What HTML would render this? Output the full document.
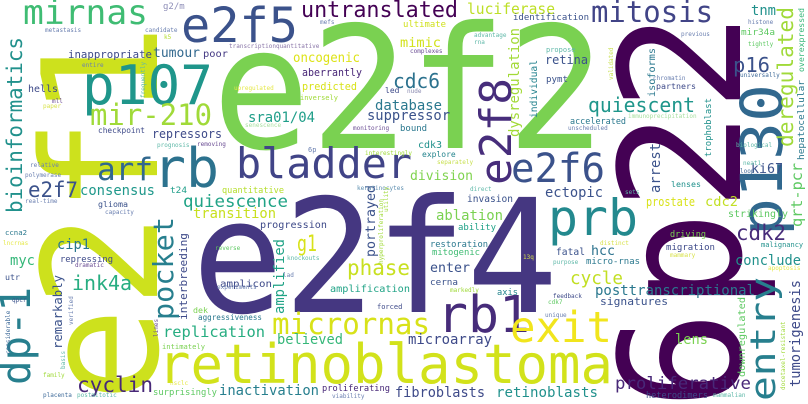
<!DOCTYPE html>
<html><head><meta charset="utf-8">
<style>
html,body{margin:0;padding:0;background:#fff;}
svg{display:block;}
text{font-family:"DejaVu Sans Mono","Liberation Mono",monospace;}
</style></head>
<body>
<svg width="808" height="404" viewBox="0 0 808 404" xmlns="http://www.w3.org/2000/svg">
<rect width="808" height="404" fill="#ffffff"/>
<text transform="translate(157,402) rotate(-90)" font-size="160" fill="#cde11d" textLength="378" lengthAdjust="spacingAndGlyphs">e2f1</text>
<text transform="translate(740,410) rotate(-90)" font-size="168" fill="#440154" textLength="398" lengthAdjust="spacingAndGlyphs">6p22</text>
<text x="212" y="148" font-size="170" fill="#7ad151" textLength="393" lengthAdjust="spacingAndGlyphs">e2f2</text>
<text x="192" y="312" font-size="158" fill="#453781" textLength="366" lengthAdjust="spacingAndGlyphs">e2f4</text>
<text x="158" y="383" font-size="54" fill="#d2e21b" textLength="455" lengthAdjust="spacingAndGlyphs">retinoblastoma</text>
<text x="82" y="104" font-size="54" fill="#1f968b" textLength="131" lengthAdjust="spacingAndGlyphs">p107</text>
<text x="548" y="235" font-size="50" fill="#23898e" textLength="90" lengthAdjust="spacingAndGlyphs">prb</text>
<text x="437" y="332" font-size="51" fill="#472c7a" textLength="93" lengthAdjust="spacingAndGlyphs">rb1</text>
<text x="181" y="42" font-size="48" fill="#3b528b" textLength="117" lengthAdjust="spacingAndGlyphs">e2f5</text>
<text x="153" y="187" font-size="54" fill="#2c728e" textLength="66" lengthAdjust="spacingAndGlyphs">rb</text>
<text x="236" y="178" font-size="42" fill="#414487" textLength="176" lengthAdjust="spacingAndGlyphs">bladder</text>
<text x="510" y="342" font-size="43" fill="#f1e51d" textLength="102" lengthAdjust="spacingAndGlyphs">exit</text>
<text transform="translate(511,185) rotate(-90)" font-size="44" fill="#472d7b" textLength="107" lengthAdjust="spacingAndGlyphs">e2f8</text>
<text x="511" y="182" font-size="40" fill="#3b528b" textLength="94" lengthAdjust="spacingAndGlyphs">e2f6</text>
<text transform="translate(782,236) rotate(-90)" font-size="58" fill="#31688e" textLength="152" lengthAdjust="spacingAndGlyphs">p130</text>
<text transform="translate(775,401) rotate(-90)" font-size="35" fill="#277f8e" textLength="124" lengthAdjust="spacingAndGlyphs">entry</text>
<text transform="translate(30,385) rotate(-90)" font-size="41" fill="#277f8e" textLength="98" lengthAdjust="spacingAndGlyphs">dp-1</text>
<text x="97" y="180" font-size="31" fill="#31688e" textLength="56" lengthAdjust="spacingAndGlyphs">arf</text>
<text x="23" y="24" font-size="34" fill="#3fbc73" textLength="125" lengthAdjust="spacingAndGlyphs">mirnas</text>
<text x="591" y="22" font-size="29" fill="#414487" textLength="122" lengthAdjust="spacingAndGlyphs">mitosis</text>
<text x="90" y="125" font-size="29" fill="#a0da39" textLength="122" lengthAdjust="spacingAndGlyphs">mir-210</text>
<text x="272" y="334" font-size="29" fill="#d8e219" textLength="158" lengthAdjust="spacingAndGlyphs">micrornas</text>
<text transform="translate(173,320) rotate(-90)" font-size="28" fill="#277f8e" textLength="103" lengthAdjust="spacingAndGlyphs">pocket</text>
<text transform="translate(22,213) rotate(-90)" font-size="21" fill="#21918c" textLength="176" lengthAdjust="spacingAndGlyphs">bioinformatics</text>
<text transform="translate(793,147) rotate(-90)" font-size="21" fill="#a0da39" textLength="140" lengthAdjust="spacingAndGlyphs">deregulated</text>
<text x="301" y="17" font-size="22" fill="#440154" textLength="157" lengthAdjust="spacingAndGlyphs">untranslated</text>
<text x="588" y="112" font-size="20" fill="#1f968b" textLength="107" lengthAdjust="spacingAndGlyphs">quiescent</text>
<text x="393" y="88" font-size="20" fill="#2c728e" textLength="47" lengthAdjust="spacingAndGlyphs">cdc6</text>
<text x="733" y="72" font-size="20" fill="#3b528b" textLength="37" lengthAdjust="spacingAndGlyphs">p16</text>
<text x="736" y="240" font-size="21" fill="#472c7a" textLength="50" lengthAdjust="spacingAndGlyphs">cdk2</text>
<text x="28" y="197" font-size="21" fill="#3b528b" textLength="50" lengthAdjust="spacingAndGlyphs">e2f7</text>
<text x="72" y="290" font-size="20" fill="#27ad81" textLength="60" lengthAdjust="spacingAndGlyphs">ink4a</text>
<text x="77" y="392" font-size="21" fill="#482878" textLength="76" lengthAdjust="spacingAndGlyphs">cyclin</text>
<text x="347" y="275" font-size="21" fill="#c8e020" textLength="63" lengthAdjust="spacingAndGlyphs">phase</text>
<text x="297" y="251" font-size="22" fill="#d8e219" textLength="20" lengthAdjust="spacingAndGlyphs">g1</text>
<text x="183" y="207" font-size="17" fill="#20a386" textLength="105" lengthAdjust="spacingAndGlyphs">quiescence</text>
<text x="570" y="284" font-size="18" fill="#c2df23" textLength="53" lengthAdjust="spacingAndGlyphs">cycle</text>
<text x="615" y="389" font-size="17" fill="#482878" textLength="136" lengthAdjust="spacingAndGlyphs">proliferative</text>
<text x="163" y="337" font-size="15" fill="#27ad81" textLength="102" lengthAdjust="spacingAndGlyphs">replication</text>
<text x="595" y="295" font-size="14" fill="#2a788e" textLength="160" lengthAdjust="spacingAndGlyphs">posttranscriptional</text>
<text x="467" y="14" font-size="15" fill="#bddf26" textLength="88" lengthAdjust="spacingAndGlyphs">luciferase</text>
<text x="153" y="57" font-size="13" fill="#31688e" textLength="47" lengthAdjust="spacingAndGlyphs">tumour</text>
<text x="203" y="57" font-size="10" fill="#443983" textLength="25" lengthAdjust="spacingAndGlyphs">poor</text>
<text x="68" y="58" font-size="11" fill="#3e4a89" textLength="84" lengthAdjust="spacingAndGlyphs">inappropriate</text>
<text x="293" y="62" font-size="13" fill="#dde318" textLength="67" lengthAdjust="spacingAndGlyphs">oncogenic</text>
<text x="400" y="47" font-size="13" fill="#d2e21b" textLength="41" lengthAdjust="spacingAndGlyphs">mimic</text>
<text x="302" y="76" font-size="11" fill="#482677" textLength="60" lengthAdjust="spacingAndGlyphs">aberrantly</text>
<text x="302" y="90" font-size="11" fill="#d8e219" textLength="55" lengthAdjust="spacingAndGlyphs">predicted</text>
<text x="375" y="110" font-size="14" fill="#2a788e" textLength="67" lengthAdjust="spacingAndGlyphs">database</text>
<text x="367" y="120" font-size="14" fill="#3b528b" textLength="83" lengthAdjust="spacingAndGlyphs">suppressor</text>
<text x="248" y="122" font-size="14" fill="#1f9e89" textLength="67" lengthAdjust="spacingAndGlyphs">sra01/04</text>
<text x="152" y="138" font-size="12" fill="#3e4a89" textLength="70" lengthAdjust="spacingAndGlyphs">repressors</text>
<text x="28" y="92" font-size="10" fill="#3e4a89" textLength="30" lengthAdjust="spacingAndGlyphs">hells</text>
<text x="98" y="133" font-size="8" fill="#3e4a89" textLength="47" lengthAdjust="spacingAndGlyphs">checkpoint</text>
<text x="410" y="180" font-size="13" fill="#7fd34e" textLength="63" lengthAdjust="spacingAndGlyphs">division</text>
<text x="80" y="195" font-size="14" fill="#1f988b" textLength="75" lengthAdjust="spacingAndGlyphs">consensus</text>
<text x="170" y="193" font-size="9" fill="#1f9e89" textLength="17" lengthAdjust="spacingAndGlyphs">t24</text>
<text x="222" y="193" font-size="9" fill="#b5de2b" textLength="62" lengthAdjust="spacingAndGlyphs">quantitative</text>
<text x="545" y="197" font-size="14" fill="#3b528b" textLength="58" lengthAdjust="spacingAndGlyphs">ectopic</text>
<text x="467" y="202" font-size="10" fill="#3b528b" textLength="46" lengthAdjust="spacingAndGlyphs">invasion</text>
<text x="193" y="218" font-size="14" fill="#c8e020" textLength="83" lengthAdjust="spacingAndGlyphs">transition</text>
<text x="436" y="220" font-size="14" fill="#7ad151" textLength="67" lengthAdjust="spacingAndGlyphs">ablation</text>
<text x="260" y="228" font-size="10" fill="#3e4a89" textLength="67" lengthAdjust="spacingAndGlyphs">progression</text>
<text x="458" y="230" font-size="9" fill="#1fa187" textLength="38" lengthAdjust="spacingAndGlyphs">ability</text>
<text transform="translate(187,320) rotate(-90)" font-size="11" fill="#3e4a89" textLength="87" lengthAdjust="spacingAndGlyphs">interbreeding</text>
<text transform="translate(375,257) rotate(-90)" font-size="13" fill="#3b528b" textLength="72" lengthAdjust="spacingAndGlyphs">portrayed</text>
<text transform="translate(284,314) rotate(-90)" font-size="14" fill="#20a386" textLength="75" lengthAdjust="spacingAndGlyphs">amplified</text>
<text transform="translate(519,137) rotate(-90)" font-size="14" fill="#a2da37" textLength="109" lengthAdjust="spacingAndGlyphs">dysregulation</text>
<text transform="translate(537,118) rotate(-90)" font-size="10" fill="#25838e" textLength="58" lengthAdjust="spacingAndGlyphs">individual</text>
<text x="430" y="247" font-size="9" fill="#2a788e" textLength="58" lengthAdjust="spacingAndGlyphs">restoration</text>
<text x="432" y="255" font-size="9" fill="#3fbc73" textLength="48" lengthAdjust="spacingAndGlyphs">mitogenic</text>
<text x="430" y="272" font-size="13" fill="#3b528b" textLength="40" lengthAdjust="spacingAndGlyphs">enter</text>
<text x="430" y="285" font-size="9" fill="#3b528b" textLength="28" lengthAdjust="spacingAndGlyphs">cerna</text>
<text x="330" y="292" font-size="10" fill="#20a386" textLength="80" lengthAdjust="spacingAndGlyphs">amplification</text>
<text x="497" y="295" font-size="9" fill="#25858e" textLength="21" lengthAdjust="spacingAndGlyphs">axis</text>
<text x="220" y="287" font-size="10" fill="#3e4a89" textLength="52" lengthAdjust="spacingAndGlyphs">amplicon</text>
<text x="277" y="344" font-size="14" fill="#35b779" textLength="66" lengthAdjust="spacingAndGlyphs">believed</text>
<text x="408" y="344" font-size="14" fill="#3e4a89" textLength="84" lengthAdjust="spacingAndGlyphs">microarray</text>
<text x="395" y="397" font-size="14" fill="#3e4a89" textLength="90" lengthAdjust="spacingAndGlyphs">fibroblasts</text>
<text x="496" y="397" font-size="14" fill="#21918c" textLength="102" lengthAdjust="spacingAndGlyphs">retinoblasts</text>
<text x="219" y="395" font-size="14" fill="#277f8e" textLength="100" lengthAdjust="spacingAndGlyphs">inactivation</text>
<text x="322" y="391" font-size="9" fill="#482878" textLength="68" lengthAdjust="spacingAndGlyphs">proliferating</text>
<text x="153" y="395" font-size="9" fill="#5ec962" textLength="64" lengthAdjust="spacingAndGlyphs">surprisingly</text>
<text x="57" y="249" font-size="14" fill="#2a788e" textLength="33" lengthAdjust="spacingAndGlyphs">cip1</text>
<text x="10" y="265" font-size="14" fill="#35b779" textLength="25" lengthAdjust="spacingAndGlyphs">myc</text>
<text x="60" y="262" font-size="9" fill="#3e4a89" textLength="53" lengthAdjust="spacingAndGlyphs">repressing</text>
<text transform="translate(62,349) rotate(-90)" font-size="12" fill="#3b528b" textLength="74" lengthAdjust="spacingAndGlyphs">remarkably</text>
<text x="198" y="320" font-size="8" fill="#2a788e" textLength="64" lengthAdjust="spacingAndGlyphs">aggressiveness</text>
<text x="193" y="313" font-size="8" fill="#7ad151" textLength="15" lengthAdjust="spacingAndGlyphs">dek</text>
<text x="162" y="349" font-size="7" fill="#7ad151" textLength="43" lengthAdjust="spacingAndGlyphs">intimately</text>
<text x="98" y="207" font-size="8" fill="#3b528b" textLength="30" lengthAdjust="spacingAndGlyphs">glioma</text>
<text x="5" y="280" font-size="8" fill="#3b528b" textLength="15" lengthAdjust="spacingAndGlyphs">utr</text>
<text x="5" y="235" font-size="7" fill="#2a788e" textLength="22" lengthAdjust="spacingAndGlyphs">ccna2</text>
<text x="735" y="265" font-size="14" fill="#21918c" textLength="66" lengthAdjust="spacingAndGlyphs">conclude</text>
<text x="600" y="305" font-size="11" fill="#3b528b" textLength="68" lengthAdjust="spacingAndGlyphs">signatures</text>
<text x="556" y="255" font-size="10" fill="#3b528b" textLength="29" lengthAdjust="spacingAndGlyphs">fatal</text>
<text x="591" y="255" font-size="13" fill="#2c728e" textLength="24" lengthAdjust="spacingAndGlyphs">hcc</text>
<text x="586" y="264" font-size="9" fill="#2a788e" textLength="54" lengthAdjust="spacingAndGlyphs">micro-rnas</text>
<text x="728" y="217" font-size="10" fill="#5ec962" textLength="60" lengthAdjust="spacingAndGlyphs">strikingly</text>
<text x="646" y="206" font-size="12" fill="#d8e219" textLength="49" lengthAdjust="spacingAndGlyphs">prostate</text>
<text x="705" y="206" font-size="13" fill="#c2df23" textLength="33" lengthAdjust="spacingAndGlyphs">cdc2</text>
<text transform="translate(802,227) rotate(-90)" font-size="15" fill="#5ec962" textLength="64" lengthAdjust="spacingAndGlyphs">qrt-pcr</text>
<text x="670" y="237" font-size="9" fill="#7ad151" textLength="36" lengthAdjust="spacingAndGlyphs">driving</text>
<text x="666" y="250" font-size="9" fill="#3e4a89" textLength="49" lengthAdjust="spacingAndGlyphs">migration</text>
<text x="675" y="344" font-size="14" fill="#7ad151" textLength="33" lengthAdjust="spacingAndGlyphs">lens</text>
<text transform="translate(745,377) rotate(-90)" font-size="10" fill="#5ec962" textLength="80" lengthAdjust="spacingAndGlyphs">downregulated</text>
<text transform="translate(800,387) rotate(-90)" font-size="14" fill="#3e4a89" textLength="107" lengthAdjust="spacingAndGlyphs">tumorigenesis</text>
<text x="646" y="398" font-size="9" fill="#3e4a89" textLength="62" lengthAdjust="spacingAndGlyphs">heterodimers</text>
<text x="513" y="20" font-size="9" fill="#3b528b" textLength="76" lengthAdjust="spacingAndGlyphs">identification</text>
<text x="403" y="27" font-size="9" fill="#d0e11c" textLength="43" lengthAdjust="spacingAndGlyphs">ultimate</text>
<text x="751" y="15" font-size="14" fill="#21918c" textLength="25" lengthAdjust="spacingAndGlyphs">tnm</text>
<text x="741" y="35" font-size="9" fill="#5ec962" textLength="34" lengthAdjust="spacingAndGlyphs">mir34a</text>
<text x="545" y="64" font-size="12" fill="#3b528b" textLength="43" lengthAdjust="spacingAndGlyphs">retina</text>
<text x="546" y="82" font-size="9" fill="#3b528b" textLength="22" lengthAdjust="spacingAndGlyphs">pymt</text>
<text transform="translate(655,97) rotate(-90)" font-size="10" fill="#2a788e" textLength="49" lengthAdjust="spacingAndGlyphs">isoforms</text>
<text x="656" y="89" font-size="8" fill="#3e4a89" textLength="40" lengthAdjust="spacingAndGlyphs">partners</text>
<text x="570" y="124" font-size="9" fill="#2a788e" textLength="56" lengthAdjust="spacingAndGlyphs">accelerated</text>
<text transform="translate(711,157) rotate(-90)" font-size="9" fill="#21918c" textLength="59" lengthAdjust="spacingAndGlyphs">trophoblast</text>
<text transform="translate(660,193) rotate(-90)" font-size="14" fill="#3b528b" textLength="50" lengthAdjust="spacingAndGlyphs">arrest</text>
<text x="751" y="173" font-size="13" fill="#3b528b" textLength="32" lengthAdjust="spacingAndGlyphs">ki67</text>
<text x="671" y="187" font-size="8" fill="#21918c" textLength="30" lengthAdjust="spacingAndGlyphs">lenses</text>
<text transform="translate(804,160) rotate(-90)" font-size="9" fill="#2a788e" textLength="80" lengthAdjust="spacingAndGlyphs">hepatocellular</text>
<text transform="translate(804,72) rotate(-90)" font-size="8" fill="#35b779" textLength="64" lengthAdjust="spacingAndGlyphs">overexpressed</text>
<g font-size="6">
<text x="163" y="9" font-size="9" fill="#8f8fb8">g2/m</text>
<text x="320" y="24" fill="#6a7fb0">mefs</text>
<text x="145" y="32" fill="#6a7fb0">candidate</text>
<text x="45" y="32" fill="#6a7fb0">metastasis</text>
<text x="164" y="39" fill="#b5de2b">k5</text>
<text x="229" y="48" fill="#8a76a8">transcriptionquantitative</text>
<text x="474" y="37" fill="#5fb8a8">advantage</text>
<text x="474" y="44" fill="#5fb8a8">rna</text>
<text x="410" y="53" fill="#6a4c93">complexes</text>
<text x="234" y="90" fill="#e5e84a">upregulated</text>
<text transform="translate(145,98) rotate(-90)" fill="#5fb8a8">frequently</text>
<text x="300" y="100" font-size="7" fill="#a0da39">inversely</text>
<text x="385" y="93" font-size="8" fill="#3e4a89">led</text>
<text x="407" y="93" fill="#8a8ab0">nude</text>
<text x="52" y="103" fill="#6a4c93">mll</text>
<text x="43" y="108" fill="#d8e24a">paper</text>
<text x="82" y="67" fill="#6a7fb0">entire</text>
<text x="245" y="127" fill="#a8e0a0">senescence</text>
<text x="353" y="130" fill="#6a4c93">monitoring</text>
<text x="400" y="131" font-size="9" fill="#2a788e">bound</text>
<text x="157" y="147" fill="#5fb8a8">prognosis</text>
<text x="197" y="146" fill="#6a4c93">removing</text>
<text x="418" y="148" font-size="10" fill="#21918c">cdk3</text>
<text x="308" y="152" font-size="7" fill="#6a7fb0">6p</text>
<text x="365" y="155" fill="#a0da39">interestingly</text>
<text x="422" y="157" font-size="8" fill="#25858e">explore</text>
<text x="437" y="164" fill="#c8e050">separately</text>
<text x="30" y="167" fill="#6a7fb0">relative</text>
<text x="25" y="177" fill="#6a7fb0">polymerase</text>
<text x="357" y="190" fill="#5f8fb0">keratinocytes</text>
<text x="470" y="191" fill="#5fb8a8">direct</text>
<text x="625" y="194" fill="#5fb8a8">sets</text>
<text x="25" y="203" fill="#6a7fb0">real-time</text>
<text x="105" y="214" fill="#6a7fb0">capacity</text>
<text transform="translate(383,264) rotate(-90)" fill="#a0da39">hyperproliferation</text>
<text transform="translate(388,212) rotate(-90)" fill="#a0da39">utility</text>
<text x="215" y="250" fill="#5ec962">reverse</text>
<text x="287" y="260" fill="#5fb8a8">knockouts</text>
<text x="523" y="259" fill="#d8e24a">13q</text>
<text x="600" y="245" fill="#d8e24a">distinct</text>
<text x="553" y="264" fill="#5fb8a8">purpose</text>
<text x="3" y="245" fill="#e5e84a">lncrnas</text>
<text x="75" y="267" fill="#6a4c93">dramatic</text>
<text x="283" y="277" fill="#6a7fb0">lad</text>
<text x="217" y="289" fill="#6a7fb0">experiments</text>
<text x="450" y="292" fill="#a0da39">markedly</text>
<text transform="translate(73,325) rotate(-90)" fill="#6a7fb0">verified</text>
<text x="12" y="302" fill="#3b528b">qpcr</text>
<text x="553" y="298" fill="#3e4a89">feedback</text>
<text x="548" y="304" fill="#5ec962">cdk7</text>
<text x="377" y="309" font-size="7" fill="#3e4a89">forced</text>
<text x="545" y="317" fill="#6a7fb0">unique</text>
<text transform="translate(158,337) rotate(-90)" fill="#6a4c93">lines</text>
<text transform="translate(10,354) rotate(-90)" fill="#3e6a99">considerable</text>
<text transform="translate(65,369) rotate(-90)" fill="#5fb8a8">basis</text>
<text x="43" y="377" fill="#a0da39">family</text>
<text x="170" y="385" fill="#e5e84a">nsclc</text>
<text transform="translate(785,390) rotate(-90)" fill="#a0da39">docetaxel-resistant</text>
<text x="43" y="397" fill="#3e6a99">placenta</text>
<text x="77" y="397" fill="#5fb8a8">postmitotic</text>
<text x="332" y="398" fill="#6a7fb0">viability</text>
<text x="713" y="397" fill="#5fb8a8">mammalian</text>
<text x="670" y="257" fill="#d8e24a">mammary</text>
<text x="761" y="247" font-size="7" fill="#21918c">malignancy</text>
<text x="768" y="270" fill="#e5e84a">apoptosis</text>
<text x="748" y="24" fill="#6a7fb0">histone</text>
<text x="681" y="36" fill="#6a7fb0">previous</text>
<text x="748" y="46" fill="#5ec962">tightly</text>
<text x="546" y="52" font-size="7" fill="#5fb8a8">propose</text>
<text transform="translate(613,80) rotate(-90)" fill="#c8e050">validated</text>
<text x="740" y="77" fill="#3e6a99">universally</text>
<text x="653" y="80" fill="#6a7fb0">chromatin</text>
<text x="628" y="118" fill="#a8e0a0">immunoprecipitation</text>
<text x="568" y="130" fill="#6a7fb0">unscheduled</text>
<text x="736" y="147" fill="#5fb8a8">biological</text>
<text x="743" y="165" fill="#5fb8a8">neat1</text>
<text x="740" y="173" fill="#3e6a99">loop</text>
</g>
</svg>
</body></html>
